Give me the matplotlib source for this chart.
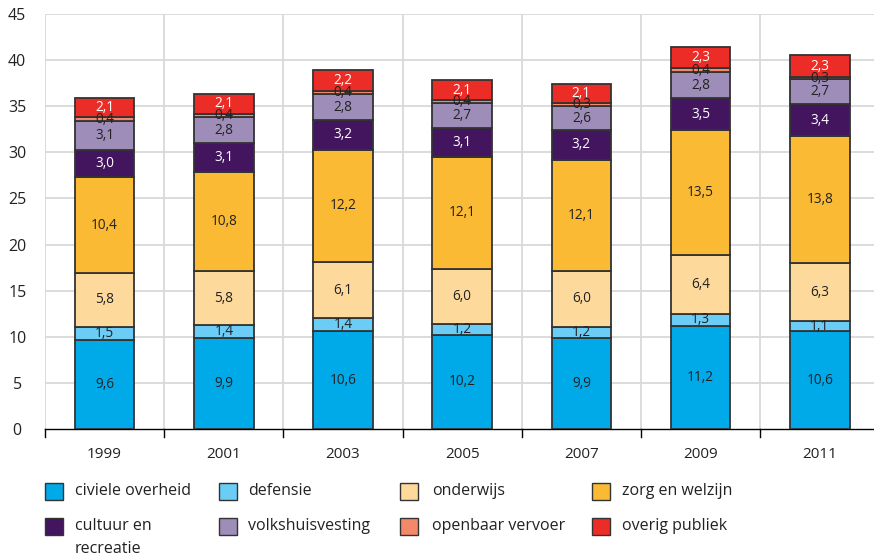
import matplotlib.pyplot as plt
from matplotlib.patches import Rectangle
import numpy as np

plt.rcParams['font.family'] = ['Open Sans', 'DejaVu Sans']

years = ['1999', '2001', '2003', '2005', '2007', '2009', '2011']

civiele_overheid = [9.6, 9.9, 10.6, 10.2, 9.9, 11.2, 10.6]
defensie = [1.5, 1.4, 1.4, 1.2, 1.2, 1.3, 1.1]
onderwijs = [5.8, 5.8, 6.1, 6.0, 6.0, 6.4, 6.3]
zorg_en_welzijn = [10.4, 10.8, 12.2, 12.1, 12.1, 13.5, 13.8]
cultuur_en_recreatie = [3.0, 3.1, 3.2, 3.1, 3.2, 3.5, 3.4]
volkshuisvesting = [3.1, 2.8, 2.8, 2.7, 2.6, 2.8, 2.7]
openbaar_vervoer = [0.4, 0.4, 0.4, 0.4, 0.3, 0.4, 0.3]
overig_publiek = [2.1, 2.1, 2.2, 2.1, 2.1, 2.3, 2.3]

series = [civiele_overheid, defensie, onderwijs, zorg_en_welzijn,
          cultuur_en_recreatie, volkshuisvesting, openbaar_vervoer, overig_publiek]
names = ['civiele overheid', 'defensie', 'onderwijs', 'zorg en welzijn',
         'cultuur en\nrecreatie', 'volkshuisvesting', 'openbaar vervoer', 'overig publiek']
colors = ['#00a9e8', '#6bcdf5', '#fdd99c', '#fbba33',
          '#44155f', '#9d8db8', '#f4886a', '#ec2d27']
text_colors = ['#222222', '#222222', '#222222', '#222222',
               'white', '#222222', '#222222', 'white']

fig = plt.figure(figsize=(8.74, 5.57), dpi=100)
ax = fig.add_axes([45 / 874, 1 - 429 / 557, 829 / 874, (429 - 14) / 557])

x = np.arange(len(years))
bottom = np.zeros(len(years))
for vals, name, col, tcol in zip(series, names, colors, text_colors):
    vals = np.array(vals)
    ax.bar(x, vals, 0.5, bottom=bottom, color=col, edgecolor='#333333',
           linewidth=1.3, zorder=3)
    for xi, b, v in zip(x, bottom, vals):
        ax.text(xi, b + v / 2, f'{v:.1f}'.replace('.', ','), ha='center',
                va='center', fontsize=9.8, color=tcol, zorder=4)
    bottom += vals

ax.set_xlim(-0.5, -0.5 + 829 / 119.2)
ax.set_ylim(0, 45)
ax.set_yticks(range(0, 46, 5))
ax.set_xticks(x)
ax.set_xticklabels(years, fontsize=11, color='#222222')
ax.tick_params(axis='x', length=0, pad=13)
ax.tick_params(axis='y', length=0, labelsize=11.5, pad=20, colors='#222222')
for lbl in ax.get_yticklabels():
    lbl.set_horizontalalignment('center')

# grid at category boundaries and every 5
for b in np.arange(-0.5, 7, 1):
    ax.axvline(b, color='#d9d9d9', linewidth=1.3, zorder=1)
    ax.plot([b, b], [0, -0.0195], color='black', linewidth=1,
            transform=ax.get_xaxis_transform(), clip_on=False)
for y in range(5, 46, 5):
    ax.axhline(y, color='#d9d9d9', linewidth=1.3, zorder=1)

for s in ['top', 'right', 'left']:
    ax.spines[s].set_visible(False)
ax.spines['bottom'].set_color('black')
ax.spines['bottom'].set_linewidth(1)

# legend, drawn by hand
patch_x = [45, 219, 400, 592]
text_x = [75, 248, 432, 622]
row_y = [491, 526]
for i, (name, col) in enumerate(zip(names, colors)):
    r, c = divmod(i, 4)
    px, py = patch_x[c], row_y[r]
    fig.patches.append(Rectangle((px / 874, 1 - (py + 9) / 557), 18 / 874, 17 / 557,
                                 transform=fig.transFigure, facecolor=col,
                                 edgecolor='#333333', linewidth=1))
    fig.text(text_x[c] / 874, 1 - (py - 8) / 557, name, ha='left', va='top',
             fontsize=11.5, color='#222222', linespacing=1.55)

fig.savefig('out.png', dpi=100)
